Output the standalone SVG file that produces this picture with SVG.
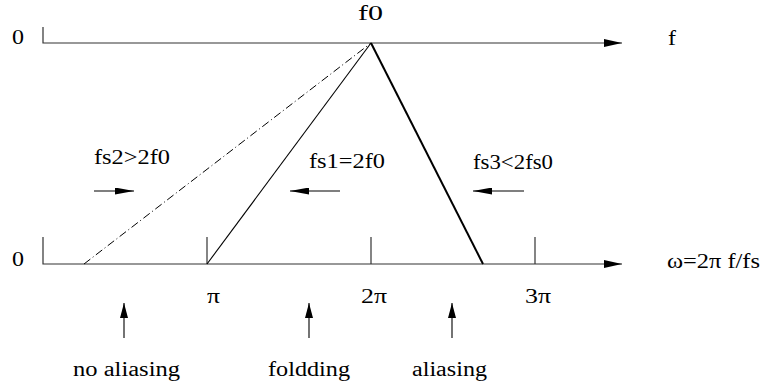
<svg xmlns="http://www.w3.org/2000/svg" width="762" height="385" viewBox="0 0 762 385">
<style>
text{font-family:"Liberation Serif","Times New Roman",Times,serif;font-size:20px;fill:#000}
.ax{stroke:#333;stroke-width:1.2;fill:none}
.thin{stroke:#000;stroke-width:1.1;fill:none}
.thick{stroke:#000;stroke-width:2;fill:none}
.dd{stroke:#000;stroke-width:1;fill:none;stroke-dasharray:8 3 1 3}
</style>
<defs>
<marker id="mAx" markerUnits="userSpaceOnUse" viewBox="0 0 18 8" refX="18" refY="4" markerWidth="18" markerHeight="8" orient="auto"><path d="M0,0 L18,4 L0,8 z" fill="#000"/></marker>
<marker id="mSm" markerUnits="userSpaceOnUse" viewBox="0 0 19 7" refX="19" refY="3.5" markerWidth="19" markerHeight="7" orient="auto"><path d="M0,0 L19,3.5 L0,7 z" fill="#000"/></marker>
<marker id="mUp" markerUnits="userSpaceOnUse" viewBox="0 0 15 8" refX="15" refY="4" markerWidth="15" markerHeight="8" orient="auto"><path d="M0,0 L15,4 L0,8 z" fill="#000"/></marker>
</defs>

<g id="top-axis">
<polyline class="ax" points="43,27 43,43 622,43" marker-end="url(#mAx)"/>
<text x="12" y="44" textLength="12" lengthAdjust="spacingAndGlyphs">0</text>
<text x="668" y="45" textLength="8" lengthAdjust="spacingAndGlyphs">f</text>
<text x="358" y="20" textLength="25" lengthAdjust="spacingAndGlyphs">f0</text>
</g>

<g id="bottom-axis">
<polyline class="ax" points="43,237 43,264 622,264" marker-end="url(#mAx)"/>
<line class="ax" x1="207" y1="237" x2="207" y2="264"/>
<line class="ax" x1="371" y1="237" x2="371" y2="264"/>
<line class="ax" x1="535" y1="237" x2="535" y2="264"/>
<text x="12" y="266" textLength="12" lengthAdjust="spacingAndGlyphs">0</text>
<text x="667" y="268" textLength="93" lengthAdjust="spacingAndGlyphs">ω=2π f/fs</text>
<text x="207" y="303" textLength="13" lengthAdjust="spacingAndGlyphs">π</text>
<text x="361" y="303" textLength="26" lengthAdjust="spacingAndGlyphs">2π</text>
<text x="525" y="303" textLength="26" lengthAdjust="spacingAndGlyphs">3π</text>
</g>

<g id="spectra">
<line class="dd" x1="84" y1="264" x2="371" y2="43"/>
<line class="thin" x1="207" y1="264" x2="371" y2="43"/>
<line class="thick" x1="371" y1="43" x2="483" y2="264"/>
</g>

<g id="connectors">
<line class="thin" x1="94" y1="191" x2="134" y2="191" marker-end="url(#mSm)"/>
<line class="thin" x1="340" y1="191" x2="290" y2="191" marker-end="url(#mSm)"/>
<line class="thin" x1="524" y1="191" x2="473" y2="191" marker-end="url(#mSm)"/>
<line class="thin" x1="124" y1="338" x2="124" y2="303" marker-end="url(#mUp)"/>
<line class="thin" x1="309" y1="338" x2="309" y2="303" marker-end="url(#mUp)"/>
<line class="thin" x1="452" y1="338" x2="452" y2="303" marker-end="url(#mUp)"/>
</g>

<g id="labels">
<text x="94" y="164" textLength="76" lengthAdjust="spacingAndGlyphs">fs2&gt;2f0</text>
<text x="309" y="168" textLength="76" lengthAdjust="spacingAndGlyphs">fs1=2f0</text>
<text x="473" y="169" textLength="80" lengthAdjust="spacingAndGlyphs">fs3&lt;2fs0</text>
<text x="73" y="376" textLength="107" lengthAdjust="spacingAndGlyphs">no aliasing</text>
<text x="268" y="376" textLength="82" lengthAdjust="spacingAndGlyphs">foldding</text>
<text x="412" y="376" textLength="75" lengthAdjust="spacingAndGlyphs">aliasing</text>
</g>
</svg>
